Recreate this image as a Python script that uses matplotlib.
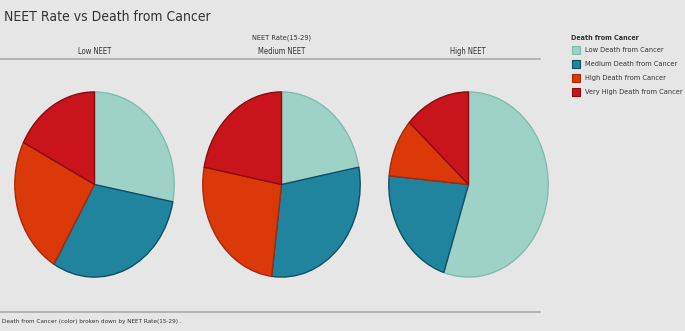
import numpy as np
import matplotlib
matplotlib.use('Agg')
import matplotlib.pyplot as plt
from matplotlib.patches import Rectangle
from matplotlib.lines import Line2D

# data (share of each death category, per NEET group)
neet_groups = ['Low NEET', 'Medium NEET', 'High NEET']
death_cats = ['Low Death from Cancer', 'Medium Death from Cancer',
              'High Death from Cancer', 'Very High Death from Cancer']
low_neet = [28.0, 30.5, 24.0, 17.5]
medium_neet = [22.0, 30.0, 26.0, 22.0]
high_neet = [55.0, 21.5, 10.2, 13.3]

colors = ['#9fd2c6', '#20849f', '#dc390a', '#c8141a']
edges = ['#7fbcae', '#0f4f63', '#a8280a', '#8a0c10']
bg = '#e6e6e6'

plt.rcParams['font.family'] = ['DejaVu Sans']
plt.rcParams['font.stretch'] = 'condensed'

fig = plt.figure(figsize=(6.85, 3.31), dpi=100, facecolor=bg)
W, H = 685.0, 331.0

def fx(px):
    return px / W

def fy(py):
    return 1 - py / H

# pies placed by pixel bounding boxes (left, top, right, bottom)
boxes = [(14, 91, 175, 278), (202, 91, 361, 278), (388, 91, 549, 278)]
centers = [95, 282, 468]

for vals, box in zip([low_neet, medium_neet, high_neet], boxes):
    l, t, r, b = box
    ax = fig.add_axes([fx(l), fy(b), fx(r - l), (b - t) / H])
    ax.set_facecolor(bg)
    wedges, _ = ax.pie(vals, colors=colors, startangle=90, counterclock=False,
                       wedgeprops=dict(linewidth=1.0))
    for w, ec in zip(wedges, edges):
        w.set_edgecolor(ec)
    ax.set_aspect('auto')
    ax.set_xlim(-1.01, 1.01)
    ax.set_ylim(-1.01, 1.01)
    ax.axis('off')

# title and headers
fig.text(fx(4), fy(17), 'NEET Rate vs Death from Cancer', fontsize=10,
         color='#333333', va='center', ha='left')
fig.text(fx(282), fy(38), 'NEET Rate(15-29)', fontsize=5.3, color='#333333',
         va='center', ha='center')
for name, cx in zip(neet_groups, centers):
    fig.text(fx(cx), fy(52), name, fontsize=5.5, color='#333333',
             va='center', ha='center')

# separator lines
fig.add_artist(Line2D([0, fx(540)], [fy(59), fy(59)], color='#aaaaaa', lw=1.2))
fig.add_artist(Line2D([0, fx(540)], [fy(312), fy(312)], color='#aaaaaa', lw=1.2))

# footer
fig.text(fx(2), fy(322), 'Death from Cancer (color) broken down by NEET Rate(15-29) .',
         fontsize=4.6, color='#333333', va='center', ha='left')

# legend
fig.text(fx(571), fy(38), 'Death from Cancer', fontsize=5.1, fontweight='bold',
         color='#333333', va='center', ha='left')
for i, (lab, c, ec) in enumerate(zip(death_cats, colors, edges)):
    y = 50 + i * 14
    fig.add_artist(Rectangle((fx(572), fy(y + 4)), fx(8), 8 / H,
                             facecolor=c, edgecolor=ec, lw=0.8))
    fig.text(fx(585), fy(y), lab, fontsize=5.3, color='#333333',
             va='center', ha='left')

fig.savefig('out.png', dpi=100, facecolor=bg)
